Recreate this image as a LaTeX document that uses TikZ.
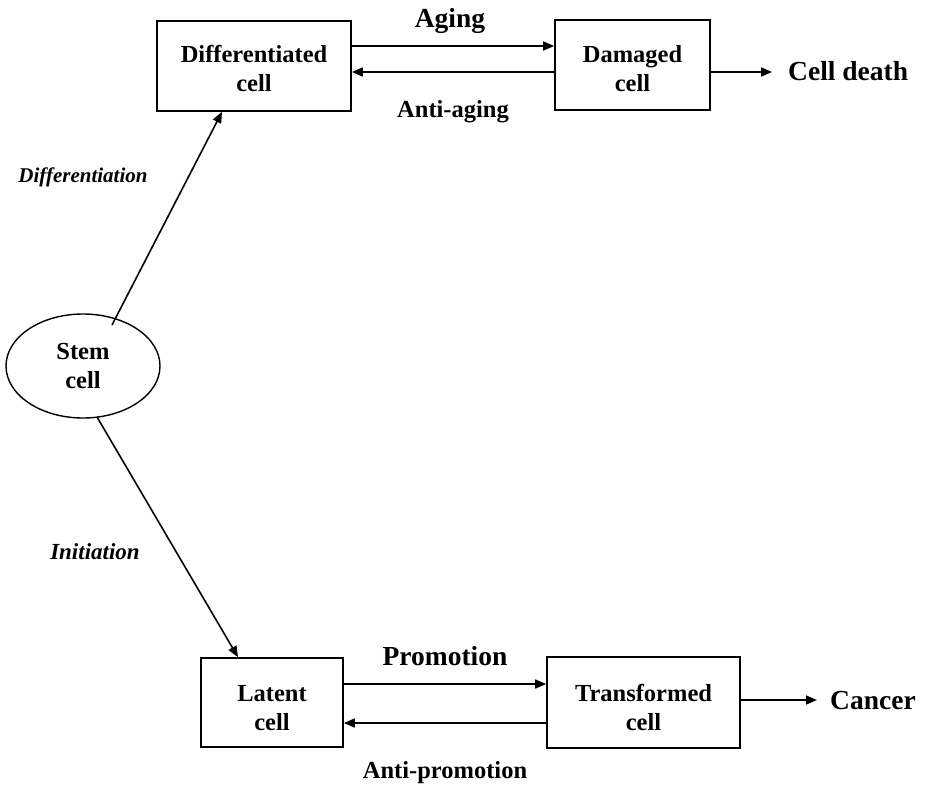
\documentclass[tikz,border=0pt]{standalone}
\usepackage{fontspec}
\setmainfont{Liberation Serif}
\usetikzlibrary{arrows.meta,shapes.geometric}
\begin{document}
\begin{tikzpicture}[x=1pt,y=-1pt,
  box/.style={draw,line width=1.7pt,inner sep=0pt,align=center,
    font=\fontsize{24.5}{29}\selectfont\bfseries},
  arr/.style={line width=1.6pt,-{Triangle[length=11pt,width=9pt]}},
  big/.style={inner sep=0pt,anchor=base,font=\fontsize{27.5}{30}\selectfont\bfseries},
  mid/.style={inner sep=0pt,anchor=base,font=\fontsize{24.5}{29}\selectfont\bfseries},
  ital/.style={inner sep=0pt,anchor=base,font=\fontsize{23}{28}\selectfont\bfseries\itshape}]
\useasboundingbox (0,0) rectangle (925,784);
% boxes
\node[box,minimum width=194pt,minimum height=90pt,text height=52pt] (diff) at (254,66) {Differentiated\\cell};
\node[box,minimum width=155pt,minimum height=90pt,text height=54pt] (dam) at (632.5,65) {Damaged\\cell};
\node[box,minimum width=142pt,minimum height=89pt,text height=57pt] (lat) at (272,702.5) {Latent\\cell};
\node[box,minimum width=193pt,minimum height=91pt,text height=57pt] (trans) at (643.5,702.5) {Transformed\\cell};
\node[box,ellipse,minimum width=154pt,minimum height=104pt,line width=1.4pt] (stem) at (83,366) {Stem\\cell};
% labels
\node[big] (aging) at (450,28) {Aging};
\node[mid] (antiaging) at (453,117) {Anti-aging};
\node[big] (promo) at (445,665) {Promotion};
\node[mid] (antipromo) at (445,778) {Anti-promotion};
\node[big,anchor=base west] (death) at (788,80) {Cell death};
\node[big,anchor=base west] (cancer) at (830,709) {Cancer};
\node[ital,font=\fontsize{21}{26}\selectfont\bfseries\itshape] (difflab) at (83,182) {Differentiation};
\node[ital] (initlab) at (95,559) {Initiation};
% connectors
\draw[arr] (diff.east |- 0,46) -- (dam.west |- 0,46);
\draw[arr] (dam.west |- 0,72) -- (diff.east |- 0,72);
\draw[arr] (dam.east |- 0,72) -- (772,72);
\draw[arr] (lat.east |- 0,684) -- (trans.west |- 0,684);
\draw[arr] (trans.west |- 0,723) -- (lat.east |- 0,723);
\draw[arr] (trans.east |- 0,700) -- (817,700);
\draw[arr] ([shift={(29,-41)}]stem.center) -- ([xshift=-32pt]diff.south);
\draw[arr] ([shift={(14,51)}]stem.center) -- ([xshift=-34pt]lat.north);
\end{tikzpicture}
\end{document}
